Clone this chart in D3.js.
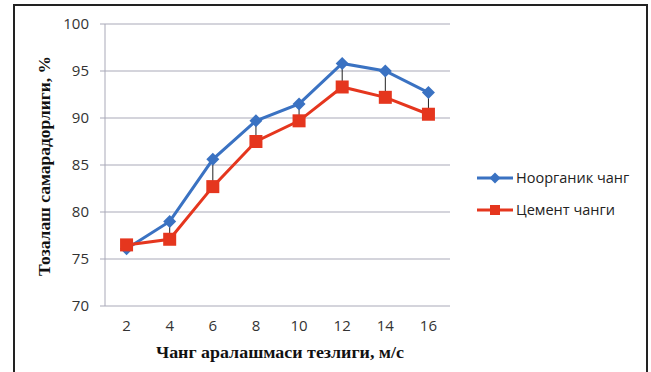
<!DOCTYPE html>
<html><head><meta charset="utf-8">
<script src="https://cdn.jsdelivr.net/npm/d3@7"></script>
<style>html,body{margin:0;padding:0;background:#fff;}svg{display:block;}</style>
</head><body>
<svg id="c" width="651" height="372"></svg>
<script>
const categories = [2, 4, 6, 8, 10, 12, 14, 16];
const seriesNames = ["Ноорганик чанг", "Цемент чанги"];
const inorganic = [76.1, 79.0, 85.6, 89.7, 91.5, 95.8, 95.0, 92.7];
const cement = [76.5, 77.1, 82.7, 87.5, 89.7, 93.3, 92.2, 90.4];
const yTicks = [70, 75, 80, 85, 90, 95, 100];
const xTitle = "Чанг аралашмаси тезлиги, м/с";
const yTitle = "Тозалаш самарадорлиги, %";
const colors = ["#3a72c2", "#e5361e"];

const svg = d3.select("#c");
svg.append("rect").attr("x", 14).attr("y", 5).attr("width", 633).attr("height", 380)
  .attr("fill", "#fff").attr("stroke", "#222").attr("stroke-width", 2);

const m = {l: 105, r: 450, t: 24, b: 306};
const x = d3.scaleBand().domain(categories).range([m.l, m.r]);
const y = d3.scaleLinear().domain([70, 100]).range([m.b, m.t]);
const cx = d => x(d) + x.bandwidth() / 2;

svg.append("g").selectAll("line").data(yTicks).join("line")
  .attr("x1", m.l - 5).attr("x2", m.r).attr("y1", d => y(d)).attr("y2", d => y(d))
  .attr("stroke", "#a9a9b8").attr("stroke-width", 1);
svg.append("line").attr("x1", m.l).attr("x2", m.l).attr("y1", m.t).attr("y2", m.b)
  .attr("stroke", "#a9a9b8");

const yAxis = d3.axisLeft(y).tickValues(yTicks).tickSize(0).tickPadding(16);
const gy = svg.append("g").attr("transform", `translate(${m.l},0)`).call(yAxis);
gy.select(".domain").remove();
gy.selectAll("text").attr("font-family", "Open Sans, Liberation Sans, sans-serif").attr("font-size", 15).attr("fill", "#333");

const xAxis = d3.axisBottom(x).tickSize(0).tickPadding(14);
const gx = svg.append("g").attr("transform", `translate(0,${m.b})`).call(xAxis);
gx.select(".domain").remove();
gx.selectAll("text").attr("font-family", "Open Sans, Liberation Sans, sans-serif").attr("font-size", 15).attr("fill", "#333");

svg.append("g").selectAll("line").data(categories).join("line")
  .attr("x1", (d) => cx(d)).attr("x2", d => cx(d))
  .attr("y1", (d, i) => y(inorganic[i])).attr("y2", (d, i) => y(cement[i]))
  .attr("stroke", "#222").attr("stroke-width", 1);

const line = d3.line().x((d, i) => cx(categories[i])).y(d => y(d));
[inorganic, cement].forEach((s, k) => {
  svg.append("path").datum(s).attr("d", line).attr("fill", "none")
    .attr("stroke", colors[k]).attr("stroke-width", 3);
});
const diamond = r => `M0,${-r}L${r},0L0,${r}L${-r},0Z`;
svg.append("g").selectAll("path").data(inorganic).join("path")
  .attr("d", diamond(6.5))
  .attr("transform", (d, i) => `translate(${cx(categories[i])},${y(d)})`)
  .attr("fill", colors[0]);
svg.append("g").selectAll("rect").data(cement).join("rect")
  .attr("x", (d, i) => cx(categories[i]) - 6.5).attr("y", d => y(d) - 6.5)
  .attr("width", 13).attr("height", 13).attr("fill", colors[1]);

svg.append("text").attr("x", 280).attr("y", 358).attr("text-anchor", "middle")
  .attr("font-family", "Liberation Serif, Times New Roman, serif").attr("font-weight", "bold")
  .attr("font-size", 16).attr("textLength", 248).attr("lengthAdjust", "spacingAndGlyphs")
  .attr("fill", "#111").text(xTitle);
svg.append("text").attr("transform", `translate(50,166) rotate(-90)`).attr("text-anchor", "middle")
  .attr("font-family", "Liberation Serif, Times New Roman, serif").attr("font-weight", "bold")
  .attr("font-size", 16).attr("textLength", 220).attr("lengthAdjust", "spacingAndGlyphs")
  .attr("fill", "#111").text(yTitle);

const leg = svg.append("g");
[0, 1].forEach(k => {
  const ly = k === 0 ? 178 : 210;
  leg.append("line").attr("x1", 477).attr("x2", 513).attr("y1", ly).attr("y2", ly)
    .attr("stroke", colors[k]).attr("stroke-width", 3);
  if (k === 0) {
    leg.append("path").attr("d", diamond(5.5)).attr("transform", `translate(495,${ly})`).attr("fill", colors[0]);
  } else {
    leg.append("rect").attr("x", 490).attr("y", ly - 5).attr("width", 10).attr("height", 10).attr("fill", colors[1]);
  }
  leg.append("text").attr("x", 516).attr("y", ly + 5).attr("font-family", "Open Sans, Liberation Sans, sans-serif")
    .attr("font-size", 14.5).attr("fill", "#222").text(seriesNames[k]);
});
</script>
</body></html>
